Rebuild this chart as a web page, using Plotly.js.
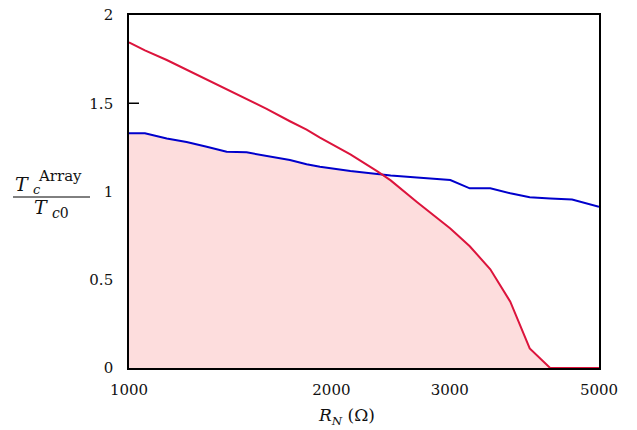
<!DOCTYPE html>
<html>
<head>
<meta charset="utf-8">
<script src="https://cdn.plot.ly/plotly-3.0.1.min.js"></script>
<style>html,body{margin:0;padding:0;background:#fff;}#plot{width:637px;height:430px;}</style>
</head>
<body>
<div id="plot"></div>
<script>
// Data
const RN = [1000, 1056, 1138, 1218, 1305, 1397, 1496, 1602, 1735, 1837, 1923, 2134, 2338, 2450, 2680, 3005, 3212, 3446, 3690, 3944, 4230, 4560, 5000];
const tcBlue = [1.33, 1.33, 1.30, 1.28, 1.254, 1.225, 1.222, 1.203, 1.178, 1.154, 1.14, 1.116, 1.097, 1.09, 1.08, 1.065, 1.018, 1.018, 0.99, 0.967, 0.961, 0.955, 0.914];
const tcRed = [1.845, 1.80, 1.745, 1.69, 1.635, 1.58, 1.527, 1.468, 1.398, 1.35, 1.305, 1.21, 1.115, 1.063, 0.94, 0.79, 0.69, 0.559, 0.376, 0.111, 0, 0, 0];
const xTickVals = [1000, 2000, 3000, 5000];
const xTickText = ['1000', '2000', '3000', '5000'];
const yTickVals = [0, 0.5, 1, 1.5, 2];
const yTickText = ['0', '0.5', '1', '1.5', '2'];

const fillY = RN.map((_, i) => Math.min(tcRed[i], tcBlue[i]));

const W = 637, H = 430, ML = 129, MR = 38, MT = 15, MB = 62;
const PW = W - ML - MR, PH = H - MT - MB;
const px = v => (v - ML) / PW;
const py = v => (H - MB - v) / PH;
const FONT = 'DejaVu Serif, Liberation Serif, serif';

const traces = [
  {x: RN, y: fillY, type: 'scatter', mode: 'lines', fill: 'tozeroy',
   fillcolor: '#fddddd', line: {width: 0, color: 'rgba(0,0,0,0)'}, hoverinfo: 'skip', showlegend: false},
  {x: RN, y: tcBlue, type: 'scatter', mode: 'lines', line: {color: '#0000cc', width: 2}, showlegend: false},
  {x: RN, y: tcRed, type: 'scatter', mode: 'lines', line: {color: '#dc143c', width: 2}, cliponaxis: false, showlegend: false}
];

const ann = (text, xp, yp, size) => ({text: text, xref: 'paper', yref: 'paper', x: px(xp), y: py(yp),
  xanchor: 'center', yanchor: 'middle', showarrow: false, font: {family: FONT, size: size, color: '#111'}});

const layout = {
  width: W, height: H,
  margin: {l: ML, r: MR, t: MT, b: MB, pad: 0},
  paper_bgcolor: '#fff', plot_bgcolor: '#fff',
  font: {family: FONT, size: 15, color: '#111'},
  showlegend: false,
  xaxis: {type: 'log', range: [3, Math.log10(5000)], tickvals: xTickVals, ticktext: xTickText,
    ticks: '', showgrid: false, zeroline: false, showline: true, mirror: true,
    linecolor: '#000', linewidth: 1.8, ticklabelstandoff: 7, tickfont: {family: FONT, size: 15, color: '#111'}},
  yaxis: {range: [0, 2], tickvals: yTickVals, ticktext: yTickText,
    ticks: '', showgrid: false, zeroline: false, showline: true, mirror: true,
    linecolor: '#000', linewidth: 1.8, ticklabelstandoff: 11, tickfont: {family: FONT, size: 15, color: '#111'}},
  shapes: [
    {type: 'line', xref: 'x domain', yref: 'y', x0: 0, x1: 10 / PW, y0: 1.5, y1: 1.5, line: {color: '#000', width: 1.5}},
    {type: 'line', xref: 'paper', yref: 'paper', x0: px(13), x1: px(90), y0: py(197), y1: py(197), line: {color: '#000', width: 1}}
  ],
  annotations: [
    ann('<i>T</i>', 22, 184, 19),
    ann('<i>c</i>', 37, 189, 13),
    ann('Array', 60, 176, 15),
    ann('<i>T</i>', 41, 207, 19),
    ann('<i>c</i>0', 60, 213, 14),
    ann('<i>R</i><sub><i>N</i></sub> (Ω)', 346, 417, 17)
  ]
};

Plotly.newPlot('plot', traces, layout, {displayModeBar: false, staticPlot: true});
</script>
</body>
</html>
